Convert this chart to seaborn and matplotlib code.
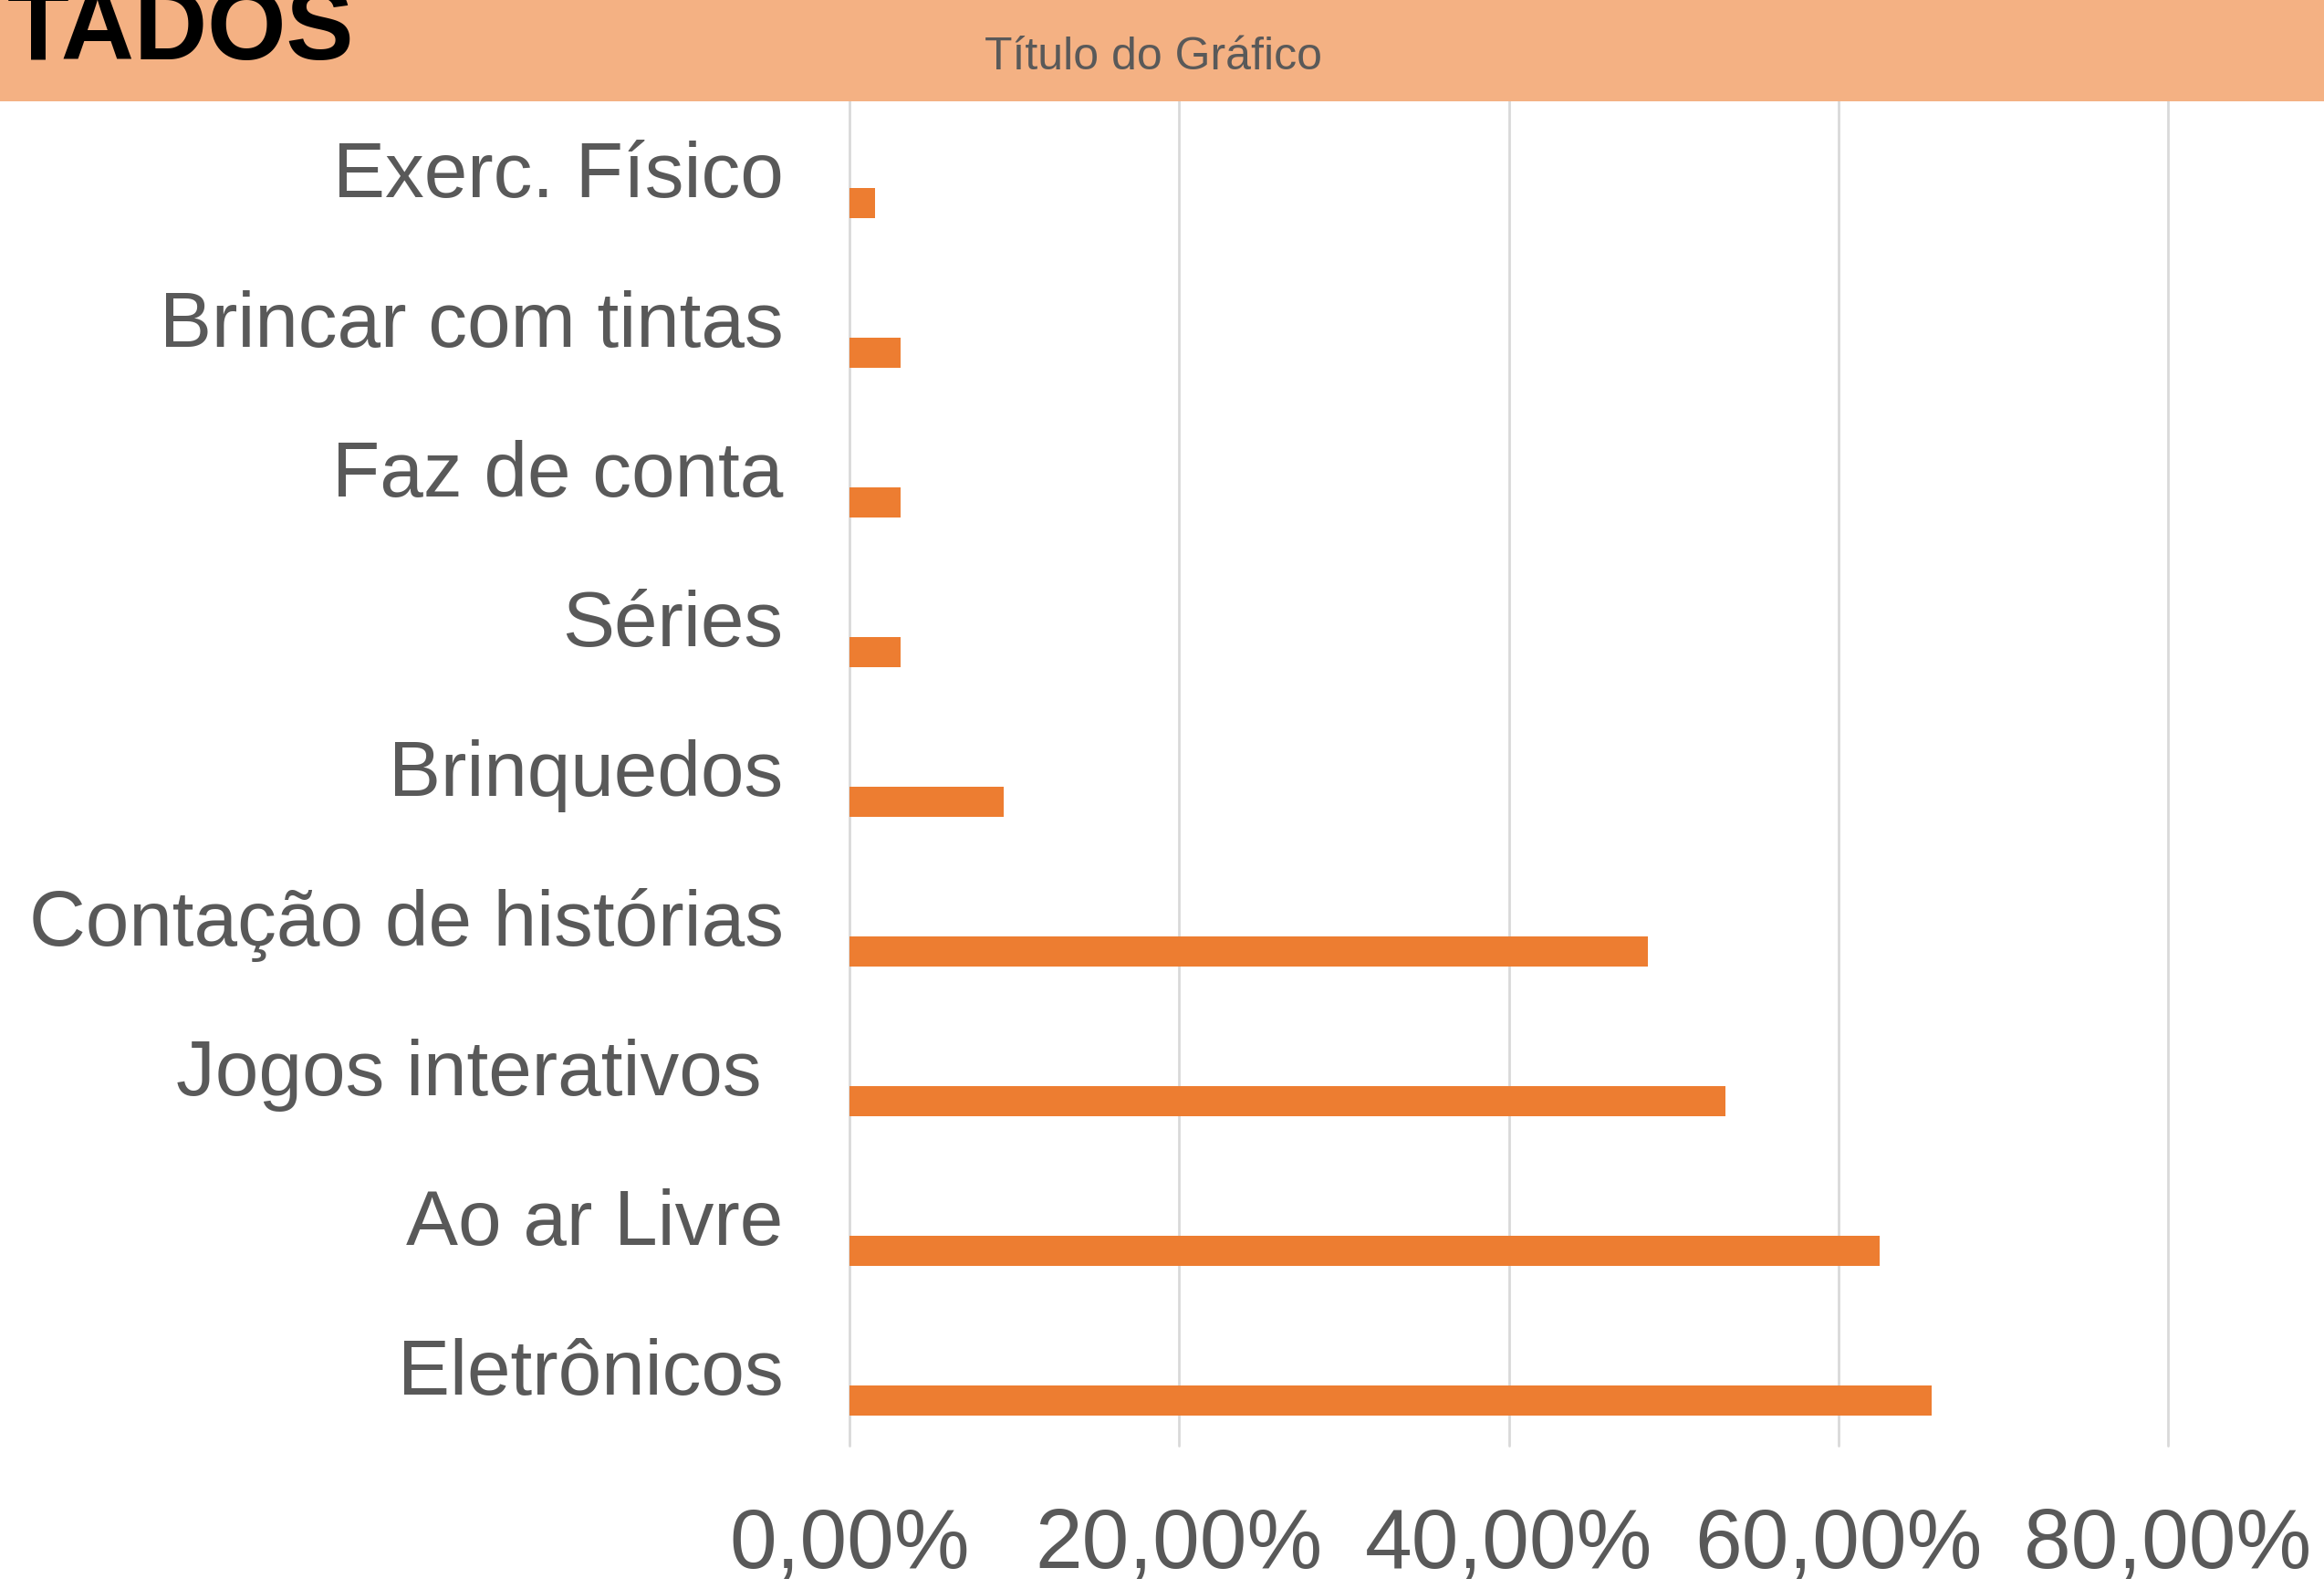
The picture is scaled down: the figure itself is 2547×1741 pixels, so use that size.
import pandas as pd
import seaborn as sns
import matplotlib.pyplot as plt
from matplotlib.patches import Rectangle
from matplotlib.ticker import FuncFormatter
from matplotlib.transforms import ScaledTranslation

# values (share of answers, in %)
categorias = ['Exerc. Físico', 'Brincar com tintas', 'Faz de conta', 'Séries',
              'Brinquedos', 'Contação de histórias', 'Jogos interativos ',
              'Ao ar Livre', 'Eletrônicos']
valores = [1.56, 3.13, 3.13, 3.13, 9.38, 48.44, 53.13, 62.5, 65.63]
series = ['Série 1', 'Série 2', 'Série 3']   # only the third one has data
xticks = [0, 20, 40, 60, 80]

df = pd.DataFrame({'Categoria': categorias, 'Valor': valores, 'Serie': 'Série 3'})

sns.set_style('white')
plt.rcParams['font.family'] = ['Liberation Sans', 'DejaVu Sans']

cinza = '#595959'
laranja = '#ED7D31'

fig = plt.figure(figsize=(25.47, 17.41), dpi=100)
fig.patches.append(Rectangle((0, 0.9364), 1, 0.0636, transform=fig.transFigure,
                             facecolor='#F4B183', edgecolor='none', zorder=0))
ax = fig.add_axes([0.3655, 0.0902, 0.9329 - 0.3655, 0.938 - 0.0902])

sns.barplot(data=df, x='Valor', y='Categoria', hue='Serie', hue_order=series,
            order=categorias, orient='h', width=0.6, dodge=True, saturation=1,
            palette={s: laranja for s in series}, legend=False, linewidth=0, ax=ax)

ax.set_xlim(0, 80)
ax.set_ylim(len(categorias) - 0.5, -0.5)
ax.set_xticks(xticks)
ax.xaxis.set_major_formatter(FuncFormatter(lambda v, p: f'{v:.2f}%'.replace('.', ',')))
ax.grid(axis='x', color='#D9D9D9', linewidth=2)
for gl in ax.get_xgridlines():
    gl.set_clip_on(False)
ax.set_axisbelow(True)
for s in ax.spines.values():
    s.set_visible(False)
ax.tick_params(axis='x', length=0, pad=48, labelsize=67, labelcolor=cinza)
ax.tick_params(axis='y', length=0, pad=52, labelsize=61.6, labelcolor=cinza)
ax.set_xlabel('')
ax.set_ylabel('')

# category names sit a little above the middle of their band
shift = ScaledTranslation(0, 5 / 100, fig.dpi_scale_trans)
for lbl in ax.get_yticklabels():
    lbl.set_transform(lbl.get_transform() + shift)

fig.text(0.4963, 0.9563, 'Título do Gráfico', ha='center', va='baseline',
         fontsize=36, color=cinza)
# the big heading is cut by the figure edge in the reference; only its end shows
fig.text(0.1523, 0.9627, 'TADOS', ha='right', va='baseline',
         fontsize=80, fontweight='bold', color='black')

fig.savefig('out.png', dpi=100)
